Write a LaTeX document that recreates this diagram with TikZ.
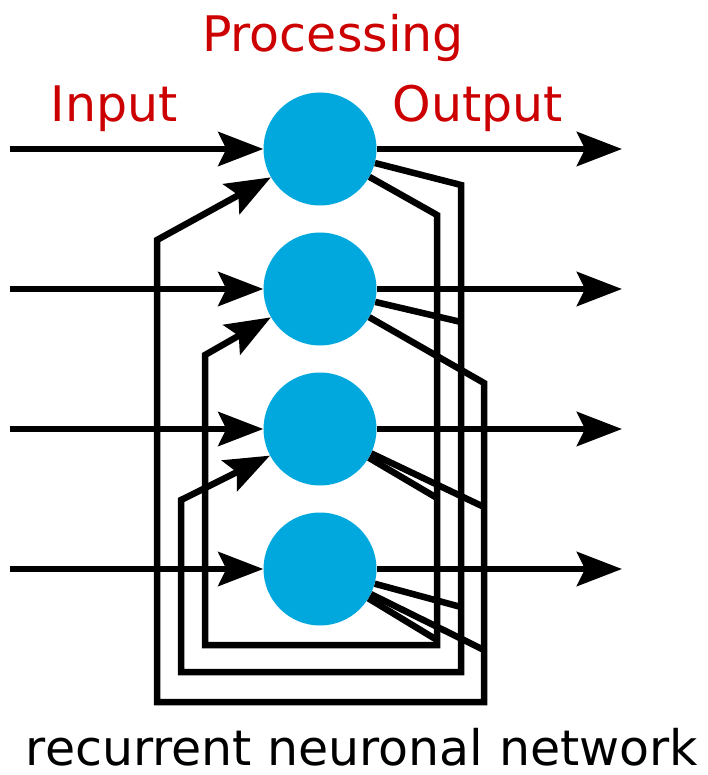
\documentclass[tikz,border=0pt]{standalone}
\usepackage{fontspec}
\setmainfont{DejaVu Sans}
\usetikzlibrary{arrows.meta}
\definecolor{neuron}{RGB}{0,168,222}
\definecolor{labelred}{RGB}{204,0,0}
\tikzset{
  cell/.style={circle,fill=neuron,minimum size=113pt,inner sep=0pt},
  wire/.style={line width=6.5pt,line join=miter},
  feed/.style={wire,-{Stealth[length=45pt,width=34pt,inset=8pt]}},
  caption/.style={font=\fontsize{49}{59}\selectfont,anchor=base,inner sep=0pt},
}
\begin{document}
\begin{tikzpicture}[x=1pt,y=-1pt]
\useasboundingbox (0,0) rectangle (707,775);
% neurons
\foreach \i/\y in {1/149,2/289,3/429,4/569}{
  \node[cell] (n\i) at (320,\y) {};
  \coordinate (in\i) at (10,\y);
  \coordinate (out\i) at (622,\y);
  \draw[feed] (in\i) -- (n\i);
  \draw[feed] (n\i) -- (out\i);
}
% recurrent loops
\draw[feed] (n1) -- (437,215) -- (437,645) -- (205,645) -- (205,355) -- (n2.210);
\draw[feed] (n1) -- (461,185) -- (461,672) -- (181,672) -- (181,500) -- (n3.208);
\draw[feed] (n2) -- (484,383) -- (484,702) -- (157,702) -- (157,240) -- (n1.210);
\draw[wire] (n3) -- (437,498);
\draw[wire] (n4) -- (437,640);
\draw[wire] (n2) -- (461,322);
\draw[wire] (n4) -- (461,607);
\draw[wire] (n3) -- (484,507);
\draw[wire] (n4) -- (484,650);
% labels
\node[caption,text=labelred] (proc) at (333,52) {Processing};
\node[caption,text=labelred] (inlab) at (114,122) {Input};
\node[caption,text=labelred] (outlab) at (478,122) {Output};
\node[caption] (title) at (362,765) {recurrent neuronal network};
\end{tikzpicture}
\end{document}
